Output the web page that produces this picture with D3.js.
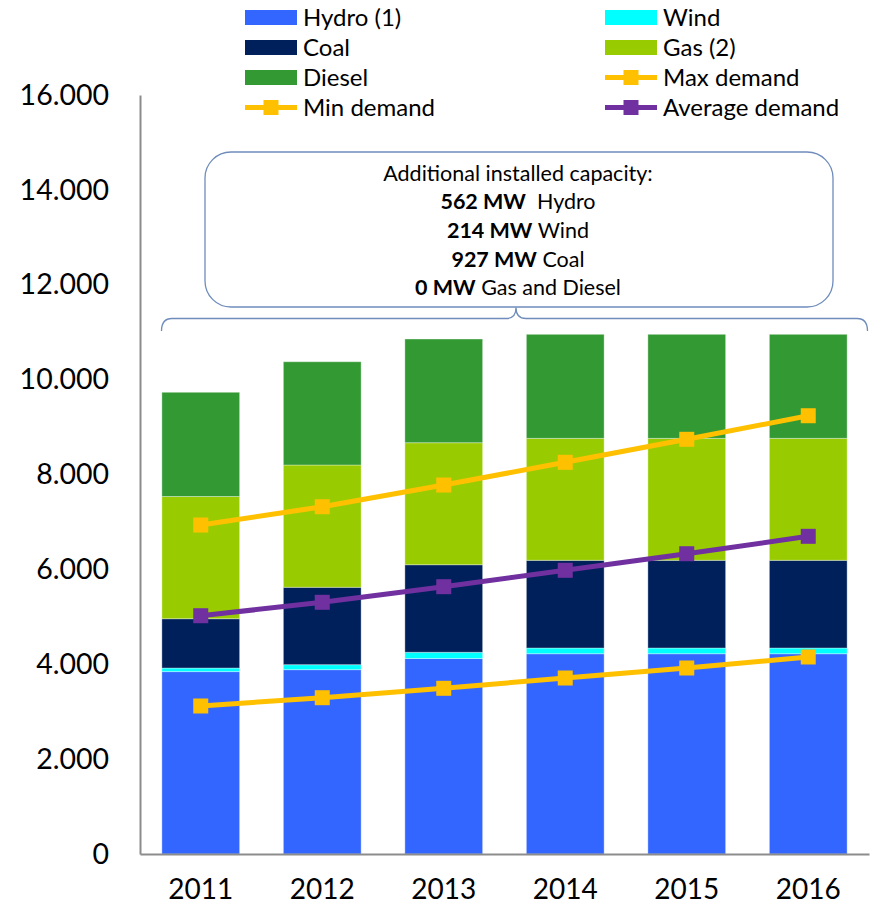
<!DOCTYPE html>
<html>
<head>
<meta charset="utf-8">
<script src="https://cdn.jsdelivr.net/npm/d3@7"></script>
<style>
  body { margin: 0; background: #fff; }
  svg { display: block; font-family: Lato, "Open Sans", sans-serif; }
</style>
</head>
<body>
<svg width="871" height="911"></svg>
<script>
// data (MW)
const years = ["2011", "2012", "2013", "2014", "2015", "2016"];
const hydro  = [3845, 3886, 4121, 4222, 4222, 4222];
const wind   = [75, 105, 131, 120, 120, 120];
const coal   = [1040, 1631, 1846, 1849, 1849, 1849];
const gas    = [2576, 2578, 2572, 2571, 2571, 2571];
const diesel = [2197, 2177, 2186, 2193, 2193, 2193];
const maxDemand = [6935, 7321, 7778, 8257, 8742, 9239];
const minDemand = [3120, 3295, 3493, 3710, 3921, 4153];
const avgDemand = [5023, 5306, 5635, 5980, 6330, 6697];
const yTicks = [0, 2000, 4000, 6000, 8000, 10000, 12000, 14000, 16000];

const noteLines = [
    ["", "Additional installed capacity:"],
    ["562 MW", "  Hydro"],
    ["214 MW", " Wind"],
    ["927 MW", " Coal"],
    ["0 MW", " Gas and Diesel"]
];

const keys = ["hydro", "wind", "coal", "gas", "diesel"];
const colors = {
    hydro: "#3366ff", wind: "#00ffff", coal: "#00205b",
    gas: "#99cc00", diesel: "#339933",
    max: "#ffc000", min: "#ffc000", avg: "#7030a0"
};

const rows = years.map((y, i) => ({
    year: y, hydro: hydro[i], wind: wind[i], coal: coal[i], gas: gas[i], diesel: diesel[i]
}));

const svg = d3.select("svg");

const x = d3.scaleBand().domain(years).range([140, 869])
    .paddingInner(0.36).paddingOuter(0.18);
const y = d3.scaleLinear().domain([0, 16000]).range([854, 95]);

const locale = d3.formatLocale({decimal: ",", thousands: ".", grouping: [3], currency: ["", ""]});
const fmt = locale.format(",");

// bars
const stacked = d3.stack().keys(keys)(rows);
svg.append("g").selectAll("g").data(stacked)
    .enter().append("g")
    .attr("fill", d => colors[d.key])
    .selectAll("rect").data(d => d)
    .enter().append("rect")
    .attr("x", d => x(d.data.year))
    .attr("width", x.bandwidth())
    .attr("y", d => y(d[1]))
    .attr("height", d => y(d[0]) - y(d[1]))
    .attr("stroke", "rgba(255,255,255,0.35)")
    .attr("stroke-width", 1);

// axes
const yAxis = svg.append("g").attr("transform", "translate(140,0)")
    .call(d3.axisLeft(y).tickValues(yTicks).tickFormat(fmt).tickSize(0).tickPadding(31));
const xAxis = svg.append("g").attr("transform", "translate(0,854)")
    .call(d3.axisBottom(x).tickSize(0).tickPadding(25));
[yAxis, xAxis].forEach(a => {
    a.select(".domain").attr("stroke", "#8c8c8c").attr("stroke-width", 2);
    a.selectAll("text").attr("font-family", "Lato, sans-serif").attr("fill", "#000");
});
yAxis.selectAll("text").attr("font-size", 28.5);
xAxis.selectAll("text").attr("font-size", 28);

// demand lines
const line = d3.line().x((d, i) => x(years[i]) + x.bandwidth() / 2).y(d => y(d));
const series = [
    {key: "max", values: maxDemand},
    {key: "min", values: minDemand},
    {key: "avg", values: avgDemand}
];
series.forEach(s => {
    svg.append("path").datum(s.values)
        .attr("d", line)
        .attr("fill", "none")
        .attr("stroke", colors[s.key])
        .attr("stroke-width", 5);
    svg.append("g").selectAll("rect").data(s.values)
        .enter().append("rect")
        .attr("x", (d, i) => x(years[i]) + x.bandwidth() / 2 - 7.5)
        .attr("y", d => y(d) - 7.5)
        .attr("width", 15).attr("height", 15)
        .attr("fill", colors[s.key]);
});

// annotation box and brace
const boxColor = "#6f8cbc";
svg.append("rect")
    .attr("x", 205).attr("y", 152).attr("width", 628).attr("height", 155)
    .attr("rx", 26).attr("ry", 26)
    .attr("fill", "#fff").attr("stroke", boxColor).attr("stroke-width", 1.3);
svg.append("path")
    .attr("d", "M161.5,331 Q161.5,318.5 172,318.5 L506,318.5 Q516,318.5 516,307.5 Q516,318.5 526,318.5 L857,318.5 Q867.5,318.5 867.5,331")
    .attr("fill", "none").attr("stroke", boxColor).attr("stroke-width", 1.3);

const note = svg.append("g").attr("font-size", 21.5).attr("text-anchor", "middle");
noteLines.forEach((l, i) => {
    const t = note.append("text").attr("x", 518).attr("y", 180.5 + i * 28.7)
        .attr("xml:space", "preserve");
    t.append("tspan").attr("font-weight", "bold").text(l[0]);
    t.append("tspan").text(l[1]);
});

// legend
const legendItems = [
    {label: "Hydro (1)", key: "hydro", type: "box"},
    {label: "Wind", key: "wind", type: "box"},
    {label: "Coal", key: "coal", type: "box"},
    {label: "Gas (2)", key: "gas", type: "box"},
    {label: "Diesel", key: "diesel", type: "box"},
    {label: "Max demand", key: "max", type: "line"},
    {label: "Min demand", key: "min", type: "line"},
    {label: "Average demand", key: "avg", type: "line"}
];
const legend = svg.append("g").attr("font-size", 24);
legendItems.forEach((d, i) => {
    const gx = i % 2 === 0 ? 245 : 605;
    const gy = 17.5 + Math.floor(i / 2) * 30;
    const g = legend.append("g").attr("transform", `translate(${gx},${gy})`);
    if (d.type === "box") {
        g.append("rect").attr("x", 0).attr("y", -7.5).attr("width", 52).attr("height", 15)
            .attr("fill", colors[d.key]);
    } else {
        g.append("line").attr("x1", 0).attr("x2", 52).attr("y1", 0).attr("y2", 0)
            .attr("stroke", colors[d.key]).attr("stroke-width", 5);
        g.append("rect").attr("x", 18.5).attr("y", -7.5).attr("width", 15).attr("height", 15)
            .attr("fill", colors[d.key]);
    }
    g.append("text").attr("x", 58).attr("y", 0).attr("dy", "0.36em").text(d.label);
});
</script>
</body>
</html>
